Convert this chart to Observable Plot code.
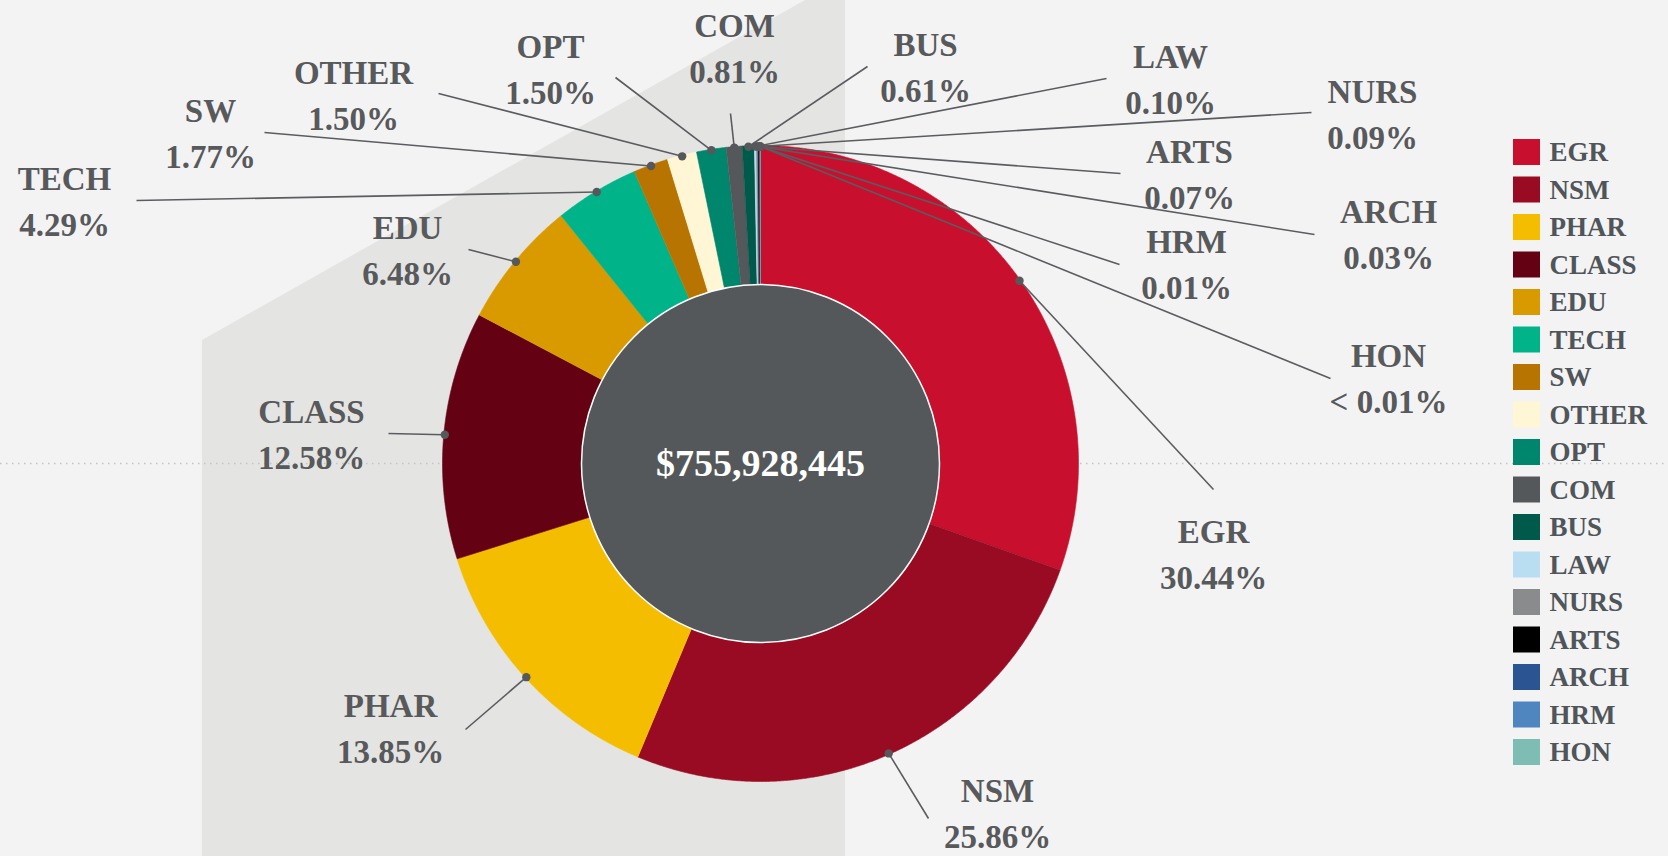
<!DOCTYPE html>
<html>
<head>
<meta charset="utf-8">
<script src="https://cdn.jsdelivr.net/npm/d3@7"></script>
<script src="https://cdn.jsdelivr.net/npm/@observablehq/plot@0.6"></script>
<style>
  html, body { margin: 0; padding: 0; background: #f3f3f4; }
  #wrap { position: relative; width: 1668px; height: 856px; overflow: hidden; }
  #panel { position: absolute; left: 0; top: 0; width: 1668px; height: 856px; background: #e4e4e3;
    clip-path: polygon(202px 340px, 805px 0px, 845px 0px, 845px 856px, 202px 856px); }
  #chart { position: absolute; left: 0; top: 0; }
  #chart svg, #chart svg text { font-family: "Liberation Serif", "Times New Roman", serif; }
</style>
</head>
<body>
<div id="wrap"><div id="panel"></div><div id="chart"></div></div>
<script>
// ---- data ----
const names = ["EGR", "NSM", "PHAR", "CLASS", "EDU", "TECH", "SW", "OTHER", "OPT", "COM", "BUS", "LAW", "NURS", "ARTS", "ARCH", "HRM", "HON"];
const shares = [30.44, 25.86, 13.85, 12.58, 6.48, 4.29, 1.77, 1.50, 1.50, 0.81, 0.61, 0.10, 0.09, 0.07, 0.03, 0.01, 0.004];
const shareLabels = ["30.44%", "25.86%", "13.85%", "12.58%", "6.48%", "4.29%", "1.77%", "1.50%", "1.50%", "0.81%", "0.61%", "0.10%", "0.09%", "0.07%", "0.03%", "0.01%", "< 0.01%"];
const colors = ["#c8102e", "#990b23", "#f5bd00", "#640113", "#d99a00", "#00b388", "#b87400", "#fff6d6", "#00866c", "#54585a", "#005a4b", "#b9ddf1", "#898b8d", "#000000", "#2b5592", "#4f86c0", "#7dbdb3"];
const total = 755928445;

// ---- layout (pixels) ----
const W = 1668, H = 856;
const cx = 760, cy = 463, R = 318, Rin = 179;
const labelAt = {
  EGR: [1213, 551], NSM: [997, 810], PHAR: [390, 725], CLASS: [311, 431], EDU: [407, 247],
  TECH: [64, 198], SW: [210, 130], OTHER: [353, 92], OPT: [550, 66], COM: [734, 45],
  BUS: [925, 64], LAW: [1170, 76], NURS: [1372, 111], ARTS: [1189, 171], ARCH: [1388, 231],
  HRM: [1186, 261], HON: [1388, 375]
};
const leaderEnd = {
  EGR: [1213, 489], NSM: [928, 818], PHAR: [465, 729], CLASS: [388, 433], EDU: [468, 249],
  TECH: [136, 200], SW: [264, 132], OTHER: [438, 93], OPT: [615, 77], COM: [730, 113],
  BUS: [867, 66], LAW: [1106, 78], NURS: [1311, 112], ARTS: [1120, 173], ARCH: [1314, 234],
  HRM: [1119, 264], HON: [1330, 378]
};
const legendX = 1513, legendTop = 152, legendStep = 37.5, swatch = 26;
const serif = "Liberation Serif";
const ink = "#58595b";

// ---- derived geometry ----
const rows = names.map((n, i) => ({name: n, share: shares[i], label: shareLabels[i]}));
const arcs = d3.pie().sort(null).value(d => d.share)(rows);
const pt = (a, r) => [cx + r * Math.sin(a), cy - r * Math.cos(a)];

const slicePts = [];
arcs.forEach(a => {
  const n = Math.max(2, Math.ceil((a.endAngle - a.startAngle) / (Math.PI / 720)));
  slicePts.push({name: a.data.name, x: cx, y: cy});
  for (let k = 0; k <= n; k++) {
    const ang = a.startAngle + (a.endAngle - a.startAngle) * k / n;
    const [x, y] = pt(ang, R);
    slicePts.push({name: a.data.name, x, y});
  }
});

const anchors = arcs.map(a => {
  const mid = (a.startAngle + a.endAngle) / 2;
  const [x, y] = pt(mid, R - 1);
  const n = a.data.name;
  return {name: n, x, y, ex: leaderEnd[n][0], ey: leaderEnd[n][1],
          lx: labelAt[n][0], ly: labelAt[n][1], text: n + "\n" + a.data.label};
});

const legendRows = names.map((n, i) => ({name: n, y: legendTop + i * legendStep}));

const chart = Plot.plot({
  width: W, height: H, margin: 0,
  style: {background: "transparent", overflow: "visible", fontFamily: "Liberation Serif, serif"},
  x: {type: "linear", domain: [0, W], range: [0, W], axis: null},
  y: {type: "linear", domain: [0, H], range: [0, H], axis: null},
  color: {type: "ordinal", domain: names, range: colors},
  marks: [
    Plot.ruleY([cy], {stroke: "#c4c4c4", strokeWidth: 1.5, strokeDasharray: "1.5,4.5"}),
    Plot.line(slicePts, {x: "x", y: "y", z: "name", fill: "name", stroke: "name", strokeWidth: 0.6, curve: "linear"}),
    Plot.dot([{x: cx, y: cy}], {x: "x", y: "y", r: Rin, fill: "#54585a", stroke: "#ffffff", strokeWidth: 1.5}),
    Plot.text([{x: cx, y: cy, t: d3.format("$,")(total)}], {x: "x", y: "y", text: "t", fill: "#ffffff",
      fontSize: 38, fontWeight: "bold", fontFamily: serif}),
    Plot.link(anchors, {x1: "x", y1: "y", x2: "ex", y2: "ey", stroke: "#5a5c5f", strokeWidth: 1.6}),
    Plot.dot(anchors, {x: "x", y: "y", r: 4.2, fill: "#56585b"}),
    Plot.text(anchors, {x: "lx", y: "ly", text: "text", fill: ink, fontSize: 33, fontWeight: "bold",
      fontFamily: serif, lineHeight: 1.38, textAnchor: "middle"}),
    Plot.rect(legendRows, {x1: legendX, x2: legendX + swatch + 1, y1: d => d.y - swatch / 2, y2: d => d.y + swatch / 2, fill: "name"}),
    Plot.text(legendRows, {x: legendX + swatch + 10, y: "y", text: "name", textAnchor: "start", fill: "#4f5559",
      fontSize: 27, fontWeight: "bold", fontFamily: serif})
  ]
});
document.getElementById("chart").appendChild(chart);
</script>
</body>
</html>
